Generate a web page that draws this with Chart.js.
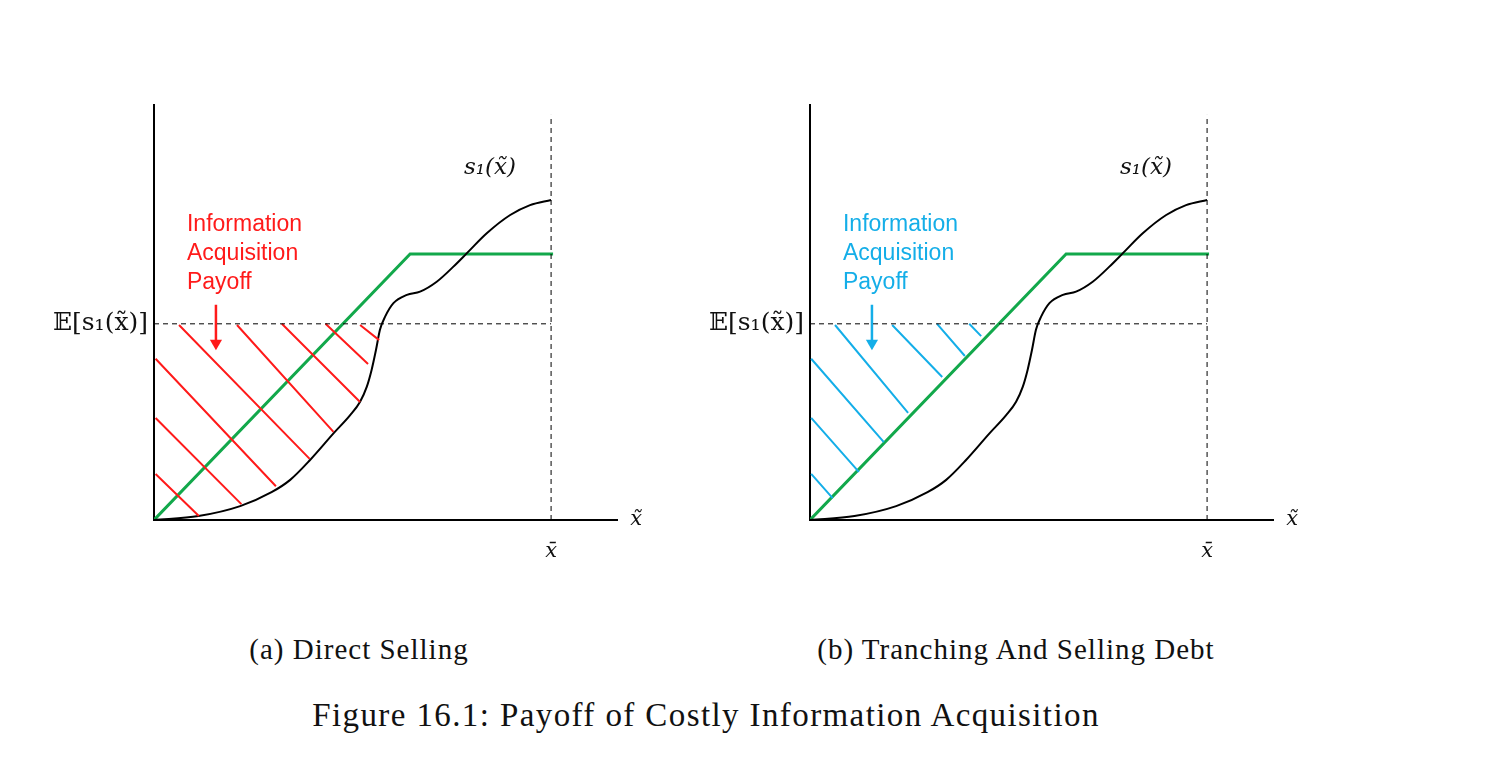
<!DOCTYPE html>
<html>
<head>
<meta charset="utf-8">
<script src="https://cdn.jsdelivr.net/npm/chart.js@4"></script>
<style>
  body { margin: 0; background: #fff; width: 1500px; height: 776px; position: relative; overflow: hidden; }
  .panel { position: absolute; top: 60px; width: 680px; height: 560px; }
  .cap { position: absolute; font-family: "Liberation Serif", serif; color: #111; white-space: nowrap; transform: translateX(-50%); }
</style>
</head>
<body>
<div class="panel" style="left:0"><canvas id="chartA" width="680" height="560"></canvas></div>
<div class="panel" style="left:656px"><canvas id="chartB" width="680" height="560"></canvas></div>
<div class="cap" style="left:359px; top:633px; font-size:29px; letter-spacing:1px">(a) Direct Selling</div>
<div class="cap" style="left:1016px; top:633px; font-size:29px; letter-spacing:1px">(b) Tranching And Selling Debt</div>
<div class="cap" style="left:706px; top:697px; font-size:33px; letter-spacing:1.4px">Figure 16.1: Payoff of Costly Information Acquisition</div>
<script>
// values, in axis units (x-bar = 10)
const curveX = [0, 1.12, 2.17, 2.96, 3.43, 3.93, 4.52, 4.94, 5.19, 5.36, 5.48, 5.59, 5.69, 5.82, 6.03, 6.37, 6.70, 7.12, 7.54, 7.88, 8.38, 8.97, 9.47, 10];
const curveY = [0, 0.10, 0.35, 0.70, 1.01, 1.51, 2.18, 2.64, 2.98, 3.36, 3.78, 4.28, 4.79, 5.12, 5.46, 5.67, 5.75, 6.00, 6.38, 6.72, 7.22, 7.68, 7.93, 8.06];
const debtX = [0, 6.45, 10.05];
const debtY = [0, 6.70, 6.70];
const meanValue = 4.94;
const xBar = 10;
// hatch segments [x1, y1, x2, y2]
const hatchDirect = [
  [0.04, 1.16, 1.13, 0.10],
  [0.04, 2.57, 2.20, 0.40],
  [0.04, 4.06, 3.07, 0.85],
  [0.63, 4.91, 3.92, 1.54],
  [2.09, 4.91, 4.52, 2.22],
  [3.22, 4.94, 5.19, 2.97],
  [4.32, 4.94, 5.39, 3.93],
  [5.19, 4.91, 5.67, 4.53]
];
const hatchTranche = [
  [0.03, 1.16, 0.57, 0.55],
  [0.03, 2.57, 1.23, 1.21],
  [0.03, 4.06, 1.86, 1.96],
  [0.63, 4.91, 2.47, 2.70],
  [2.07, 4.91, 3.33, 3.60],
  [3.20, 4.94, 3.90, 4.13],
  [4.01, 4.94, 4.31, 4.63]
];
const noteLines = ['Information', 'Acquisition', 'Payoff'];
const xMax = 11.66;
const yMax = 10.45;

const pts = (xs, ys) => xs.map((x, i) => ({ x: x, y: ys[i] }));

function segmentData(segs) {
  const out = [];
  segs.forEach(s => {
    out.push({ x: s[0], y: s[1] }, { x: s[2], y: s[3] }, { x: NaN, y: null });
  });
  return out;
}

// draws text labels at data coordinates
const notesPlugin = {
  id: 'notes',
  afterDatasetsDraw(chart, args, opts) {
    const { ctx, scales: { x, y } } = chart;
    ctx.save();
    (opts.items || []).forEach(n => {
      ctx.font = n.font;
      ctx.fillStyle = n.color;
      ctx.textAlign = n.align || 'left';
      ctx.textBaseline = 'middle';
      ctx.fillText(n.text, x.getPixelForValue(n.x), y.getPixelForValue(n.y));
    });
    ctx.restore();
  }
};

function makePanel(id, hatch, accent) {
  const notes = [
    { text: 's\u2081(x\u0303)', x: 8.46, y: 8.87, align: 'center', color: '#111', font: 'italic 23px "DejaVu Serif", serif' },
    { text: 'x\u0303', x: 12.14, y: 0.02, align: 'center', color: '#111', font: 'italic 21px "DejaVu Serif", serif' }
  ];
  noteLines.forEach((t, i) => {
    notes.push({ text: t, x: 0.83, y: 7.43 - i * 0.73, color: accent, font: '23px "Liberation Sans", Arial, sans-serif' });
  });

  new Chart(document.getElementById(id), {
    type: 'line',
    data: {
      datasets: [
        {
          // E[s1] level
          data: pts([0, xBar], [meanValue, meanValue]),
          borderColor: '#000', borderWidth: 1, borderDash: [5, 4], pointRadius: 0
        },
        {
          data: pts([xBar, xBar], [0, 10.2]),
          borderColor: '#000', borderWidth: 1, borderDash: [5, 4], pointRadius: 0
        },
        {
          data: segmentData(hatch),
          borderColor: accent, borderWidth: 2, pointRadius: 0, spanGaps: false
        },
        {
          data: pts(curveX, curveY),
          borderColor: '#000', borderWidth: 2, pointRadius: 0,
          tension: 0.4, cubicInterpolationMode: 'monotone'
        },
        {
          data: pts(debtX, debtY),
          borderColor: '#12A84B', borderWidth: 3, pointRadius: 0
        },
        {
          // arrow
          data: pts([1.56, 1.56], [5.42, 4.45]),
          borderColor: accent, backgroundColor: accent, borderWidth: 2.5,
          pointRadius: [0, 7], pointStyle: 'triangle', rotation: 180, pointBorderWidth: 0
        }
      ]
    },
    options: {
      responsive: false,
      animation: false,
      events: [],
      layout: { padding: { left: 0, top: 45, right: 63, bottom: 0 } },
      plugins: {
        legend: { display: false },
        tooltip: { enabled: false },
        notes: { items: notes }
      },
      scales: {
        x: {
          type: 'linear', min: 0, max: xMax,
          grid: { display: false, drawTicks: false },
          border: { display: true, color: '#000', width: 2 },
          afterBuildTicks: s => { s.ticks = [{ value: xBar }]; },
          afterFit: s => { s.height = 100; },
          ticks: {
            padding: 19, color: '#111',
            font: { family: 'DejaVu Serif', size: 21, style: 'italic' },
            callback: () => 'x\u0304'
          }
        },
        y: {
          type: 'linear', min: 0, max: yMax,
          grid: { display: false, drawTicks: false },
          border: { display: true, color: '#000', width: 2 },
          afterBuildTicks: s => { s.ticks = [{ value: meanValue }]; },
          afterFit: s => { s.width = 154; },
          ticks: {
            padding: 6, color: '#111',
            font: { family: 'DejaVu Serif', size: 25 },
            callback: () => '\uD835\uDD3C[s\u2081(x\u0303)]'
          }
        }
      }
    },
    plugins: [notesPlugin]
  });
}

makePanel('chartA', hatchDirect, '#FF1A1A');
makePanel('chartB', hatchTranche, '#14AEE8');
</script>
</body>
</html>
